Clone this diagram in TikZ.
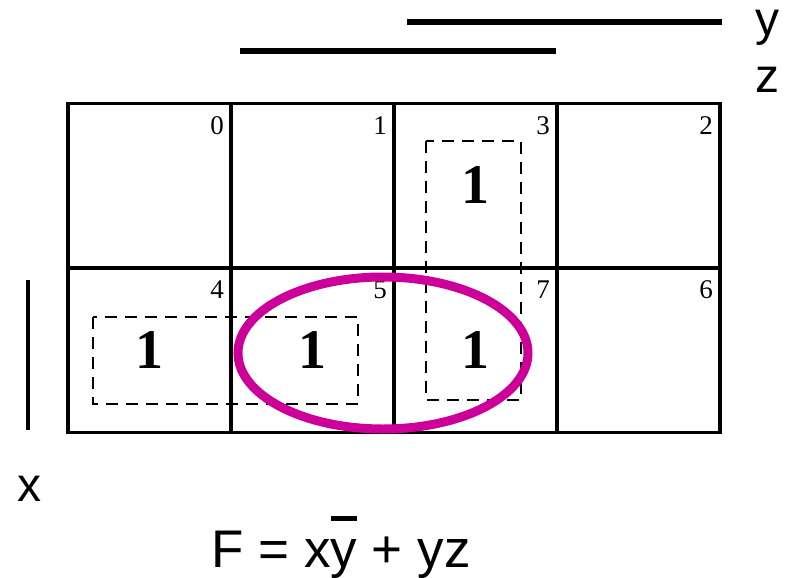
\documentclass[tikz,border=0pt]{standalone}
\usepackage{fontspec}
\setmainfont{Liberation Serif}
\newfontfamily\labelfont{Liberation Sans}
\usetikzlibrary{positioning, calc}
\definecolor{ringpink}{RGB}{204,0,153}
\newcommand{\barover}[1]{\setbox0\hbox{#1}\rlap{\rule[0.88em]{\wd0}{0.09em}}\box0\relax}

\begin{document}
\begin{tikzpicture}[
    x=1pt, y=-1pt,
    cell/.style={draw, line width=3.5pt, outer sep=0pt, inner sep=0pt, minimum width=163pt, minimum height=164.5pt, font=\fontsize{56}{56}\selectfont\bfseries},
    index/.style={anchor=north east, inner sep=0pt, font=\fontsize{27}{27}\selectfont},
    loop/.style={draw, line width=2.8pt, dash pattern=on 12pt off 8pt},
    ring/.style={draw=ringpink, line width=9pt},
    bar/.style={draw, line width=6pt},
    varlabel/.style={inner sep=0pt, font=\labelfont\fontsize{48}{48}\selectfont}
]
\useasboundingbox (0,0) rectangle (790,578);

% map cells
\node[cell] (c0) at (149.5,185.5) {};
\node[cell, right=0pt of c0] (c1) {};
\node[cell, right=0pt of c1] (c3) {1};
\node[cell, right=0pt of c3] (c2) {};
\node[cell, below=0pt of c0] (c4) {1};
\node[cell, right=0pt of c4] (c5) {1};
\node[cell, right=0pt of c5] (c7) {1};
\node[cell, right=0pt of c7] (c6) {};

\foreach \c in {0,1,3,2,4,5,7,6}
    \node[index] (n\c) at ($(c\c.north east)+(-7,13)$) {\c};

% groups
\draw[loop] (426,141) rectangle (521,400);
\draw[loop] (93,317) rectangle (358,404);
\draw[ring] (383,353) ellipse [x radius=145, y radius=76];

% variable bars
\draw[bar] (407,22) -- (722,22);
\draw[bar] (240,51) -- (556,51);
\draw[draw, line width=4pt] (28,280) -- (28,430);
\node[varlabel] (ly) at (767,28) {y};
\node[varlabel] (lz) at (767,80) {z};
\node[varlabel] (lx) at (29,489) {x};

\node[varlabel, font=\labelfont\fontsize{53}{53}\selectfont] (func) at (341,547) {F = x\barover{y} + yz};

\end{tikzpicture}
\end{document}
